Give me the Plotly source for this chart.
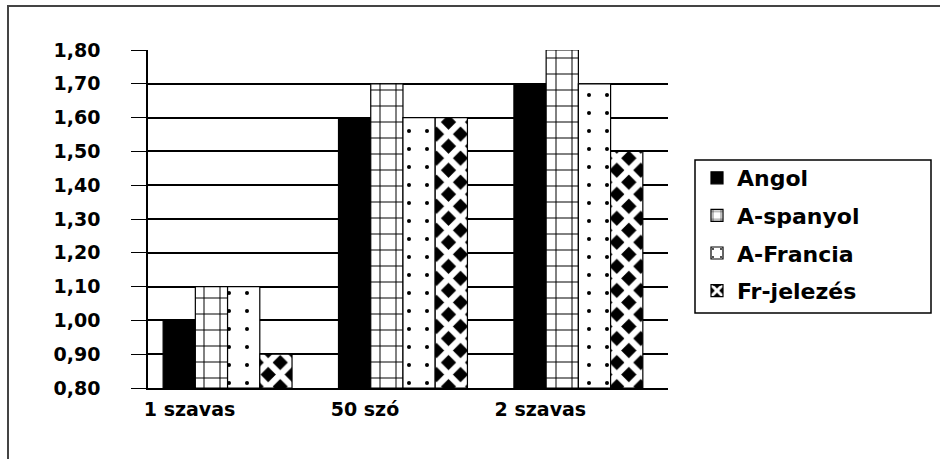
import plotly.graph_objects as go

categories = ["1 szavas", "50 szó", "2 szavas"]
angol = [1.00, 1.60, 1.70]
a_spanyol = [1.10, 1.70, 1.80]
a_francia = [1.10, 1.60, 1.70]
fr_jelezes = [0.90, 1.60, 1.50]
y_ticks = [0.8, 0.9, 1.0, 1.1, 1.2, 1.3, 1.4, 1.5, 1.6, 1.7, 1.8]
BASE = 0.8

FONT = "DejaVu Sans"
line = dict(color="black", width=1.2)


def heights(vals):
    return [v - BASE for v in vals]


fig = go.Figure()
fig.add_trace(go.Bar(name="Angol", legendgroup="g1", x=categories, y=heights(angol), base=BASE,
                     marker=dict(color="black", line=line)))
fig.add_trace(go.Bar(name="A-spanyol", legendgroup="g2", x=categories, y=heights(a_spanyol), base=BASE,
                     marker=dict(color="white", line=line,
                                 pattern=dict(shape="+", fgcolor="black", bgcolor="white",
                                              fgopacity=1, size=16, solidity=0.12))))
fig.add_trace(go.Bar(name="A-Francia", legendgroup="g3", x=categories, y=heights(a_francia), base=BASE,
                     marker=dict(color="white", line=line,
                                 pattern=dict(shape=".", fgcolor="black", bgcolor="white",
                                              fgopacity=1, size=18, solidity=0.04))))
fig.add_trace(go.Bar(name="Fr-jelezés", legendgroup="g4", x=categories, y=heights(fr_jelezes), base=BASE,
                     marker=dict(color="white", line=line,
                                 pattern=dict(shape="x", fgcolor="white", bgcolor="black",
                                              fgopacity=1, size=17, solidity=0.6))))

W, H = 940, 459
L, R, T, B = 148, 668, 50, 388
pw, ph = R - L, B - T


def px(x):
    return (x - L) / pw


def py(y):
    return (B - y) / ph


fig.update_layout(
    width=W, height=H,
    margin=dict(l=L, r=W - R, t=T, b=H - B, pad=0),
    paper_bgcolor="white", plot_bgcolor="white",
    separators=", ",
    barmode="group", bargap=0.265, bargroupgap=0,
    font=dict(family=FONT, size=19, color="black", weight="bold"),
    legend=dict(x=px(697), y=py(157), xanchor="left", yanchor="top",
                borderwidth=0, bgcolor="rgba(0,0,0,0)",
                font=dict(family=FONT, size=22, color="black", weight="bold"),
                tracegroupgap=6),
    showlegend=True,
    shapes=[
        dict(type="path", xref="paper", yref="paper",
             path=f"M {px(8)},{py(470)} L {px(8)},{py(6)} L {px(960)},{py(6)}",
             line=dict(color="#444", width=2)),
        dict(type="rect", xref="paper", yref="paper",
             x0=px(695), x1=px(931), y0=py(313), y1=py(160),
             line=dict(color="black", width=1.5), fillcolor="rgba(0,0,0,0)"),
    ],
)
fig.update_xaxes(range=[-0.5 + 8 / 172.7, -0.5 + pw / 172.7], showline=True,
                 linecolor="black", linewidth=1.5, ticks="", showgrid=False,
                 ticklabelshift=-38, ticklabelstandoff=3,
                 tickfont=dict(family=FONT, size=19, color="black", weight="bold"))
fig.update_yaxes(range=[0.8, 1.8], tickvals=y_ticks, tickformat=".2f",
                 showline=True, linecolor="black", linewidth=1.5,
                 ticks="outside", ticklen=15, tickcolor="black", tickwidth=1.2,
                 ticklabelstandoff=27,
                 showgrid=True, gridcolor="black", gridwidth=1.6,
                 zeroline=False,
                 tickfont=dict(family=FONT, size=19, color="black", weight="bold"))

fig.write_html("out.html", config={"displayModeBar": False},
               post_script="document.body.style.margin='0';document.body.style.overflow='hidden';")
